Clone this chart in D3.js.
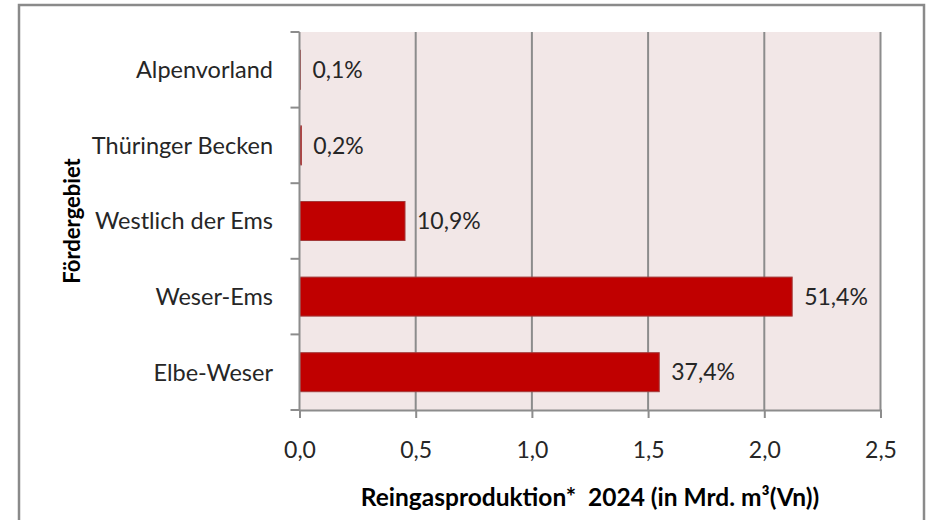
<!DOCTYPE html>
<html>
<head>
<meta charset="utf-8">
<script src="https://cdn.jsdelivr.net/npm/d3@7"></script>
<style>
  html, body { margin: 0; padding: 0; background: #fff; }
  svg { display: block; font-family: Lato, "Open Sans", sans-serif; }
</style>
</head>
<body>
<div id="chart"></div>
<script>
// Production areas, top to bottom as shown
const regions = ["Alpenvorland", "Thüringer Becken", "Westlich der Ems", "Weser-Ems", "Elbe-Weser"];
// Pure gas production 2024 in bn m³(Vn)
const production = [0.004, 0.008, 0.454, 2.12, 1.548];
// share labels printed next to the bars
const shares = ["0,1%", "0,2%", "10,9%", "51,4%", "37,4%"];
const xTicks = [0, 0.5, 1.0, 1.5, 2.0, 2.5];

const width = 926, height = 520;
const margin = { top: 32, right: 45.5, bottom: 110, left: 299.5 };

const svg = d3.select("#chart").append("svg")
    .attr("width", width)
    .attr("height", height);

// outer frame (bottom edge runs off the picture)
svg.append("rect")
    .attr("x", 19).attr("y", 5)
    .attr("width", 905).attr("height", 540)
    .attr("fill", "#fff")
    .attr("stroke", "#8a8a8a")
    .attr("stroke-width", 2.5);

const x = d3.scaleLinear()
    .domain([0, 2.5])
    .range([margin.left, width - margin.right]);

const y = d3.scaleBand()
    .domain(regions)
    .range([margin.top, height - margin.bottom])
    .paddingInner(0.484)
    .paddingOuter(0.242);

const de = d3.formatLocale({ decimal: ",", thousands: ".", grouping: [3], currency: ["", " €"] });
const fmt = de.format(".1f");

// plot background
svg.append("rect")
    .attr("x", x(0)).attr("y", margin.top)
    .attr("width", x(2.5) - x(0))
    .attr("height", y.range()[1] - margin.top)
    .attr("fill", "#f2e7e7");

// vertical gridlines
svg.append("g")
  .selectAll("line")
  .data(xTicks.slice(1))
  .join("line")
    .attr("x1", d => x(d)).attr("x2", d => x(d))
    .attr("y1", margin.top).attr("y2", y.range()[1])
    .attr("stroke", "#8c8c8c")
    .attr("stroke-width", 2);

// bars
svg.append("g")
  .selectAll("rect")
  .data(regions)
  .join("rect")
    .attr("x", x(0))
    .attr("y", d => y(d))
    .attr("width", (d, i) => x(production[i]) - x(0))
    .attr("height", y.bandwidth())
    .attr("fill", "#c00000")
    .attr("stroke", "#a33a3a")
    .attr("stroke-width", 1);

// value labels
svg.append("g")
  .selectAll("text")
  .data(regions)
  .join("text")
    .attr("x", (d, i) => x(production[i]) + 12)
    .attr("y", d => y(d) + y.bandwidth() / 2)
    .attr("dy", "0.36em")
    .attr("font-size", 23)
    .attr("fill", "#262626")
    .text((d, i) => shares[i]);

// x axis
const xAxis = svg.append("g")
    .attr("transform", `translate(0,${y.range()[1]})`)
    .call(d3.axisBottom(x).tickValues(xTicks).tickSize(8).tickPadding(24).tickFormat(fmt));
xAxis.select(".domain").attr("stroke", "#8c8c8c").attr("stroke-width", 2);
xAxis.selectAll(".tick line").attr("stroke", "#8c8c8c").attr("stroke-width", 2);
xAxis.selectAll(".tick text")
    .attr("font-size", 23)
    .attr("font-family", "Lato, sans-serif")
    .attr("fill", "#262626");

// y axis: line plus ticks at category boundaries
const yAxis = svg.append("g");
yAxis.append("line")
    .attr("x1", x(0)).attr("x2", x(0))
    .attr("y1", margin.top).attr("y2", y.range()[1])
    .attr("stroke", "#8c8c8c").attr("stroke-width", 2);
yAxis.selectAll(".btick")
  .data(d3.range(regions.length + 1))
  .join("line")
    .attr("class", "btick")
    .attr("x1", x(0) - 9).attr("x2", x(0))
    .attr("y1", i => y.range()[0] + i * y.step())
    .attr("y2", i => y.range()[0] + i * y.step())
    .attr("stroke", "#8c8c8c").attr("stroke-width", 2);
yAxis.selectAll(".cat")
  .data(regions)
  .join("text")
    .attr("class", "cat")
    .attr("x", 273)
    .attr("y", d => y(d) + y.bandwidth() / 2)
    .attr("dy", "0.36em")
    .attr("text-anchor", "end")
    .attr("font-size", 23.5)
    .attr("fill", "#262626")
    .text(d => d);

// axis titles
svg.append("text")
    .attr("x", (x(0) + x(2.5)) / 2)
    .attr("y", 497)
    .attr("dy", "0.36em")
    .attr("text-anchor", "middle")
    .attr("font-size", 24.5)
    .attr("font-weight", "bold")
    .attr("fill", "#000")
    .style("white-space", "pre")
    .text("Reingasproduktion*  2024 (in Mrd. m³(Vn))");

svg.append("text")
    .attr("transform", `translate(72,${(margin.top + y.range()[1]) / 2}) rotate(-90)`)
    .attr("dy", "0.36em")
    .attr("text-anchor", "middle")
    .attr("font-size", 22)
    .attr("font-weight", "bold")
    .attr("fill", "#000")
    .text("Fördergebiet");
</script>
</body>
</html>
